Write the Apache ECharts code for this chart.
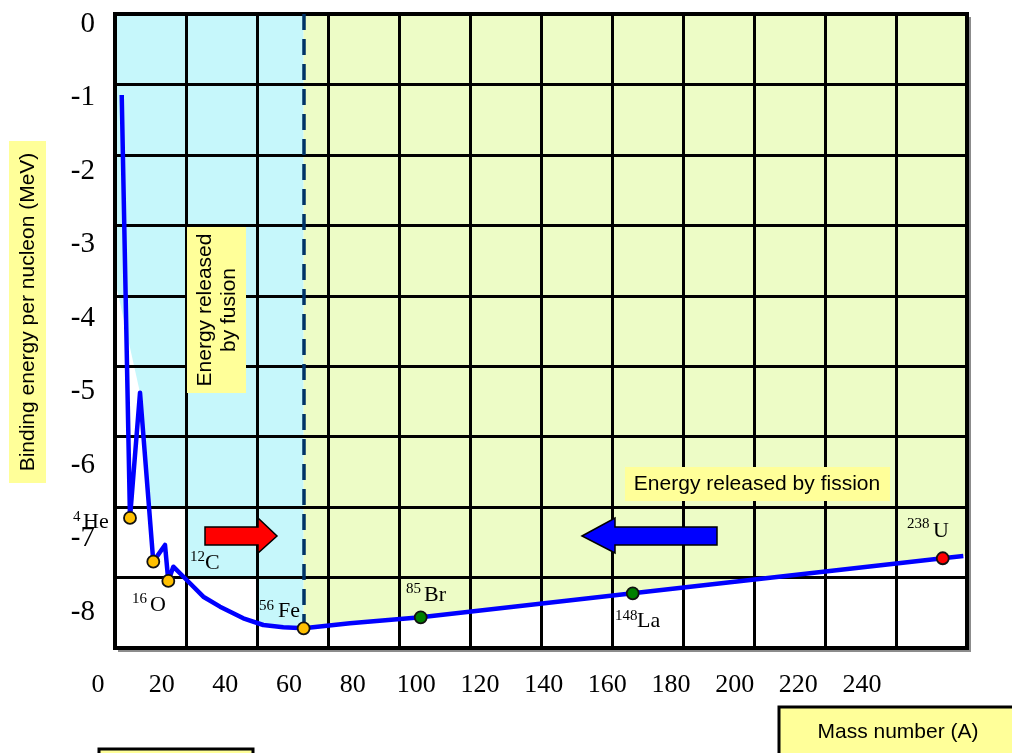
<!DOCTYPE html>
<html>
<head>
<meta charset="utf-8">
<script src="https://cdn.jsdelivr.net/npm/echarts@6/dist/echarts.min.js"></script>
<style>
html,body{margin:0;padding:0;background:#fff;}
#chart{width:1012px;height:753px;}
</style>
</head>
<body>
<div id="chart"></div>
<script>
// ---------- tick labels ----------
const massTicks = [0, 20, 40, 60, 80, 100, 120, 140, 160, 180, 200, 220, 240];
const energyTicks = [0, -1, -2, -3, -4, -5, -6, -7, -8];

// ---------- binding-energy curve (as drawn in the picture) ----------
const curveA  = [7.45, 10.05, 13.20, 17.37, 21.05, 22.09, 23.66, 27.87, 33.08, 38.33, 45.65, 51.93, 58.22, 64.6, 79.17, 101.38, 167.99, 265.38, 271.85];
const curveBE = [-0.966, -6.72, -5.016, -7.315, -7.088, -7.578, -7.384, -7.565, -7.792, -7.928, -8.086, -8.177, -8.208, -8.222, -8.154, -8.072, -7.746, -7.269, -7.238];

// ---------- marked nuclides ----------
const isoMass   = [4, 12, 16, 56, 85, 148, 238];
const isoSymbol = ['He', 'C', 'O', 'Fe', 'Br', 'La', 'U'];
const isoA      = [10.05, 17.37, 22.09, 64.6, 101.38, 167.99, 265.38];
const isoBE     = [-6.72, -7.315, -7.578, -8.222, -8.072, -7.746, -7.269];
const isoGroup  = ['light', 'light', 'light', 'light', 'fragment', 'fragment', 'fuel'];

// ---------- lower edge of the fusion shading ----------
const fusionEdgeA  = [5.34, 13.20, 15.85, 27.65, 27.65, 49.95, 49.95, 51.93, 58.22, 64.6];
const fusionEdgeBE = [-3.483, -5.016, -6.571, -6.571, -7.532, -7.532, -8.148, -8.177, -8.208, -8.222];

// visible data window of the plot frame
const viewA  = [5.34, 273.0];
const viewBE = [-8.49, 0.136];

// ---------- derived ----------
const curve = curveA.map((a, i) => [a, curveBE[i]]);
const feIdx = isoSymbol.indexOf('Fe');
const feA = isoA[feIdx], feBE = isoBE[feIdx];
const curveFeIdx = curveA.indexOf(feA);
const topBE = viewBE[1];
// closed shading regions (above their lower edges, up to the top of the frame)
const fusionRegion = [[fusionEdgeA[0], topBE]]
  .concat(fusionEdgeA.map((a, i) => [a, fusionEdgeBE[i]]))
  .concat([[feA, topBE]]);
const fissionRegion = [[feA, topBE]]
  .concat(curve.slice(curveFeIdx))
  .concat([[viewA[1], curveBE[curveBE.length - 1]], [viewA[1], topBE]]);
const isoData = isoA.map((a, i) => [a, isoBE[i]]);
const groupColor = { light: '#FFC000', fragment: '#008000', fuel: '#FF0000' };

// ---------- annotation layout (pixels) ----------
const isoLabelLayout = [
  { sup: [73, 517], sym: [83, 522.5] },
  { sup: [190, 557], sym: [205, 563] },
  { sup: [132, 599], sym: [150, 605.5] },
  { sup: [259, 606], sym: [278, 611] },
  { sup: [406, 589], sym: [424, 595] },
  { sup: [615, 616], sym: [637, 621] },
  { sup: [907, 524], sym: [933, 531] }
];

const SERIF = '"Liberation Serif", "Times New Roman", serif';
const SANS = '"Liberation Sans", Arial, sans-serif';

function txt(x, y, text, font, opts) {
  opts = opts || {};
  return {
    type: 'text', x: x, y: y, rotation: opts.rotation || 0, z: opts.z || 30,
    style: {
      x: 0, y: 0, text: text, font: font, fill: '#000',
      textAlign: opts.align || 'left', align: opts.align || 'left',
      textVerticalAlign: 'middle', verticalAlign: 'middle',
      lineHeight: opts.lineHeight
    }
  };
}
function box(x, y, w, h, stroke) {
  return {
    type: 'rect', z: 25,
    shape: { x: x, y: y, width: w, height: h },
    style: { fill: '#FFFF99', stroke: stroke ? '#000' : null, lineWidth: stroke ? 3 : 0 }
  };
}

const graphics = [];
// soft shadow along the right and bottom edges of the frame
graphics.push({ type: 'rect', z: 3, shape: { x: 969, y: 17, width: 2, height: 635 }, style: { fill: '#8c8c8c' } });
graphics.push({ type: 'rect', z: 3, shape: { x: 118, y: 650, width: 853, height: 2 }, style: { fill: '#8c8c8c' } });
// label boxes
graphics.push(box(9, 141, 37, 342));
graphics.push(txt(28, 312, 'Binding energy per nucleon (MeV)', '21px ' + SANS, { rotation: Math.PI / 2, align: 'center' }));
graphics.push(box(187, 227, 59, 166));
graphics.push(txt(217, 310, 'Energy released\nby fusion', '21px ' + SANS, { rotation: Math.PI / 2, align: 'center', lineHeight: 24 }));
graphics.push(box(625, 467, 265, 34));
graphics.push(txt(757, 484, 'Energy released by fission', '21px ' + SANS, { align: 'center' }));
graphics.push(box(779, 707, 250, 60, true));
graphics.push(txt(898, 732, 'Mass number (A)', '21px ' + SANS, { align: 'center' }));
graphics.push(box(99, 749, 154, 20, true));
// arrows
graphics.push({
  type: 'polygon', z: 26,
  shape: { points: [[205, 527], [258, 527], [258, 518], [277, 536], [258, 553], [258, 545], [205, 545]] },
  style: { fill: '#FF0000', stroke: '#000', lineWidth: 1.5 }
});
graphics.push({
  type: 'polygon', z: 26,
  shape: { points: [[582, 536], [615, 518], [615, 527], [717, 527], [717, 545], [615, 545], [615, 553]] },
  style: { fill: '#0000FF', stroke: '#000', lineWidth: 1.5 }
});
// nuclide labels
isoSymbol.forEach((s, i) => {
  const L = isoLabelLayout[i];
  graphics.push(txt(L.sup[0], L.sup[1], String(isoMass[i]), '15px ' + SERIF));
  graphics.push(txt(L.sym[0], L.sym[1], s, '22px ' + SERIF));
});

function regionSeries(name, region, color) {
  return {
    name: name, type: 'custom', xAxisIndex: 0, yAxisIndex: 0, silent: true, z: 1,
    data: [region[0]],
    renderItem: function (params, api) {
      return {
        type: 'polygon',
        shape: { points: region.map(p => api.coord(p)) },
        style: { fill: color, stroke: null }
      };
    }
  };
}

const chart = echarts.init(document.getElementById('chart'), null, { renderer: 'canvas' });
chart.setOption({
  animation: false,
  backgroundColor: '#ffffff',
  grid: [
    { left: 115, top: 14, width: 852, height: 634, show: true, backgroundColor: 'transparent', borderColor: '#000', borderWidth: 4, z: 4 },
    { left: 98, top: 660, width: 764, height: 1 },
    { left: 115, top: 24, width: 1, height: 588 }
  ],
  xAxis: [
    { gridIndex: 0, type: 'value', min: viewA[0], max: viewA[1], show: false },
    { gridIndex: 0, type: 'value', min: 0, max: 12, interval: 1, z: 3,
      axisLine: { show: false }, axisTick: { show: false }, axisLabel: { show: false },
      splitLine: { show: true, lineStyle: { color: '#000', width: 3 } } },
    { gridIndex: 1, type: 'value', min: massTicks[0], max: massTicks[massTicks.length - 1], interval: massTicks[1] - massTicks[0],
      axisLine: { show: false }, axisTick: { show: false }, splitLine: { show: false },
      axisLabel: { color: '#000', fontFamily: SERIF, fontSize: 26, margin: 11 } },
    { gridIndex: 2, type: 'value', show: false }
  ],
  yAxis: [
    { gridIndex: 0, type: 'value', min: viewBE[0], max: viewBE[1], show: false },
    { gridIndex: 0, type: 'value', min: 0, max: 9, interval: 1, z: 3,
      axisLine: { show: false }, axisTick: { show: false }, axisLabel: { show: false },
      splitLine: { show: true, lineStyle: { color: '#000', width: 3 } } },
    { gridIndex: 1, type: 'value', show: false },
    { gridIndex: 2, type: 'value', min: energyTicks[energyTicks.length - 1], max: energyTicks[0], interval: energyTicks[0] - energyTicks[1],
      axisLine: { show: false }, axisTick: { show: false }, splitLine: { show: false },
      axisLabel: { color: '#000', fontFamily: SERIF, fontSize: 29, margin: 20 } }
  ],
  series: [
    regionSeries('fusion region', fusionRegion, '#C6F7FB'),
    regionSeries('fission region', fissionRegion, '#EDFCC6'),
    { name: 'binding energy', type: 'line', xAxisIndex: 0, yAxisIndex: 0, data: curve,
      symbol: 'none', z: 6, lineStyle: { color: '#0000FF', width: 4.5, join: 'round' },
      markLine: {
        silent: true, symbol: ['none', 'none'], label: { show: false },
        lineStyle: { color: '#003366', width: 3.5, type: [16, 9] },
        data: [[{ coord: [feA, viewBE[1]] }, { coord: [feA, feBE] }]]
      } },
    { name: 'nuclides', type: 'scatter', xAxisIndex: 0, yAxisIndex: 0, data: isoData,
      symbolSize: 12, z: 7,
      itemStyle: { color: p => groupColor[isoGroup[p.dataIndex]], borderColor: '#111', borderWidth: 1.8, opacity: 1 } }
  ],
  graphic: { elements: graphics }
});
</script>
</body>
</html>
